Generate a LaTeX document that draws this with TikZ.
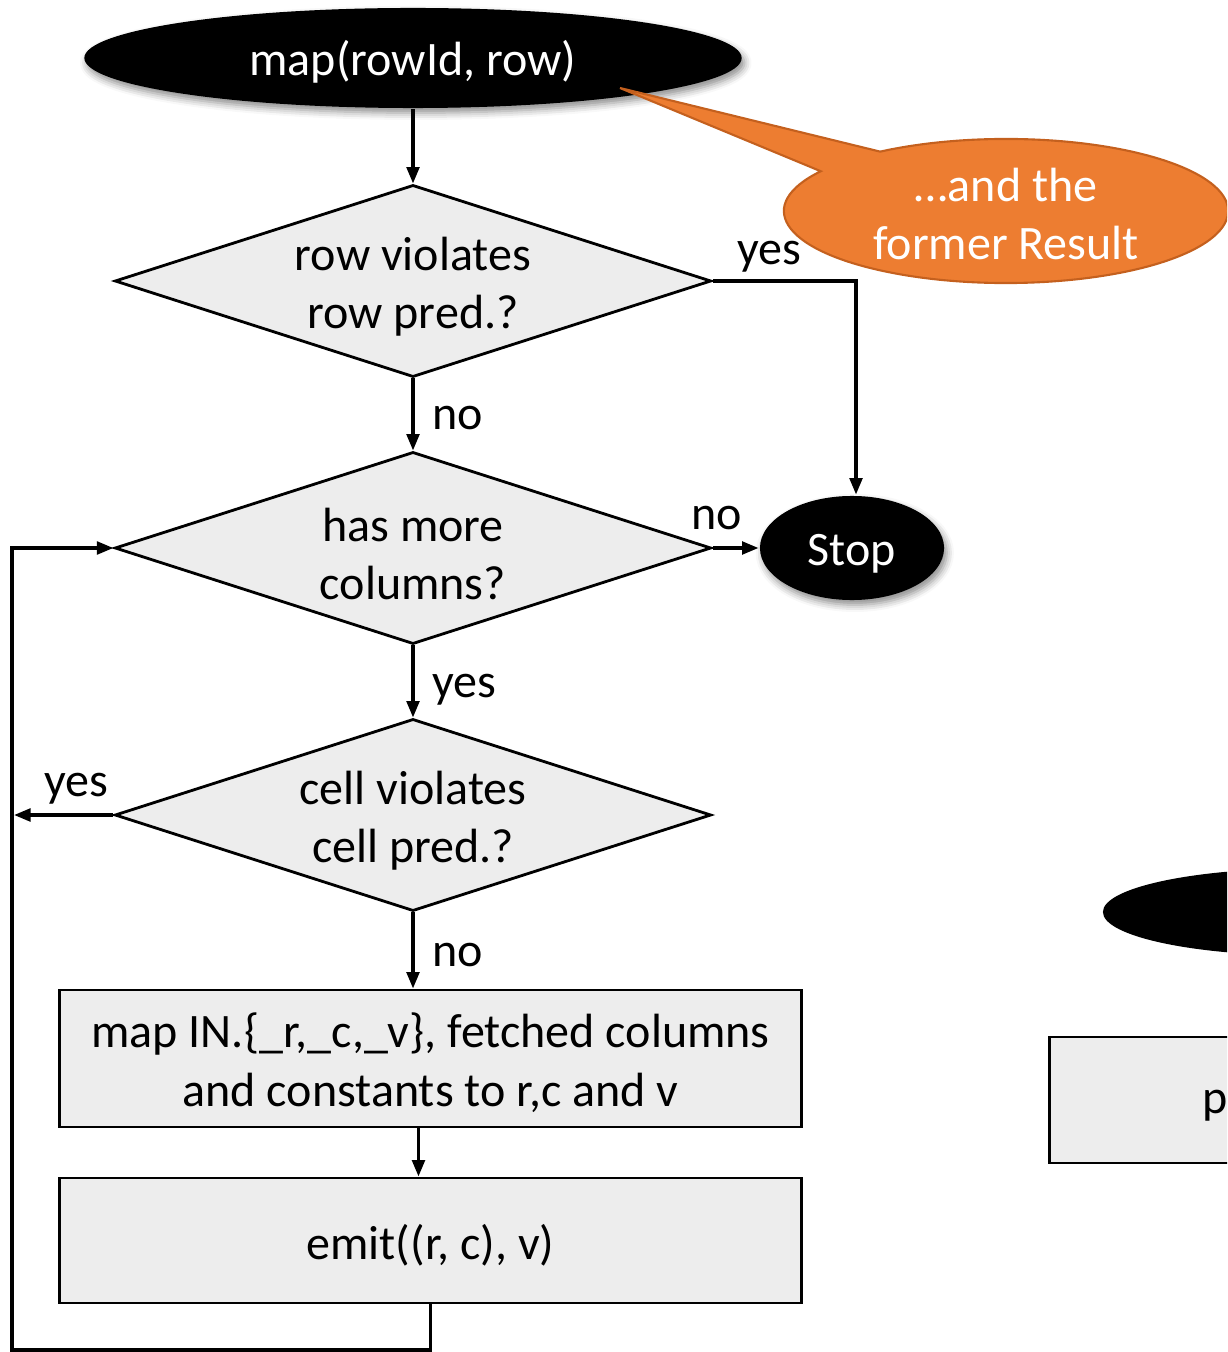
\documentclass[tikz,border=0pt]{standalone}
\usepackage{fontspec}
\setmainfont{Carlito}
\usetikzlibrary{shapes.geometric,shapes.callouts,arrows.meta,shadows.blur}
\definecolor{boxgray}{HTML}{EDEDED}
\definecolor{calloutorange}{HTML}{ED7D31}
\definecolor{calloutedge}{HTML}{C4601E}

\begin{document}
\begin{tikzpicture}[x=0.01cm,y=-0.01cm,
  font=\fontsize{13.66pt}{16.6pt}\selectfont,
  line width=0.8pt,
  flow/.style={line width=0.95pt, -{Triangle[length=4.7pt,width=3.6pt]}},
  % a strut beside the text that lifts the node's top edge a little
  textstrut/.style={execute at begin node={\rule{0pt}{#1}}},
  textstrut/.default=12.8pt,
  decision/.style={diamond, draw, fill=boxgray, minimum width=5.96cm,
    minimum height=1.92cm, inner sep=0pt, aspect=3.1, align=center, textstrut=29.4pt},
  process/.style={rectangle, draw, fill=boxgray, minimum width=7.41cm,
    inner sep=0pt, align=center, textstrut},
  terminal/.style={ellipse, fill=black, text=white, inner sep=0pt, textstrut=12pt,
    blur shadow={shadow xshift=0.8pt, shadow yshift=-1.4pt,
      shadow blur radius=2pt, shadow opacity=45}},
  lbl/.style={inner sep=0pt}
]
\useasboundingbox (0,0) rectangle (1227,1352);
\begin{scope}
\clip (0,0) rectangle (1227,1352);

% main flow
\node[terminal, minimum width=6.57cm, minimum height=1.0cm] (start) at (413,58) {map(rowId, row)};
\node[decision] (rowpred) at (413,281) {row violates\\row pred.?};
\node[decision] (morecols) at (413,548) {has more\\columns?};
\node[decision] (cellpred) at (413,815) {cell violates\\cell pred.?};
\node[terminal, minimum width=1.84cm, minimum height=1.04cm] (stop) at (852,548) {Stop};
\node[process, minimum height=1.37cm, textstrut=28.9pt] (mapin) at (430.5,1058.5)
  {map IN.\{\_r,\_c,\_v\}, fetched columns\\and constants to r,c and v};
\node[process, minimum height=1.25cm] (emit) at (430.5,1240.5) {emit((r, c), v)};

% partly visible second flow on the right
\node[ellipse, fill=black, minimum width=4cm, minimum height=0.87cm] (rstart) at (1303,912) {};
\node[rectangle, draw, fill=boxgray, minimum width=3cm, minimum height=1.26cm,
  anchor=west, inner sep=0pt] (rbox) at (1048,1100) {};
\node[anchor=base west, inner sep=0pt] (rtext) at (1201,1113) {p};

% callout
\node[ellipse callout, fill=calloutorange, draw=calloutedge, line width=0.6pt,
  text=white, minimum width=4.44cm, minimum height=1.44cm, inner sep=0pt,
  align=center, textstrut=27.7pt, callout absolute pointer={(620,88)}, callout pointer arc=22]
  (note) at (1006,211) {…and the\\former Result};

% connectors
\coordinate (leftend) at (14,815);
\coordinate (loopcorner) at (12,1350);
\draw[flow] (start) -- (rowpred);
\draw[flow] (rowpred.east) -| ([xshift=0.04cm]stop.north);
\draw[flow] (rowpred) -- (morecols);
\draw[flow] (morecols) -- (stop);
\draw[flow] (morecols) -- (cellpred);
\draw[flow] (cellpred.west) -- (leftend);
\draw[flow] (cellpred.south) -- (cellpred.south |- mapin.north);
\draw[flow] ([xshift=-0.12cm]mapin.south) -- ([xshift=-0.12cm]emit.north);
\draw[flow] (emit.south) |- (loopcorner) |- (morecols.west);

% branch labels
\node[lbl] (yes1) at (769,257) {yes};
\node[lbl] (no1) at (458,418) {no};
\node[lbl] (no2) at (717,518) {no};
\node[lbl] (yes2) at (464,690) {yes};
\node[lbl] (yes3) at (76,789) {yes};
\node[lbl] (no3) at (458,955) {no};
\end{scope}
\end{tikzpicture}
\end{document}
